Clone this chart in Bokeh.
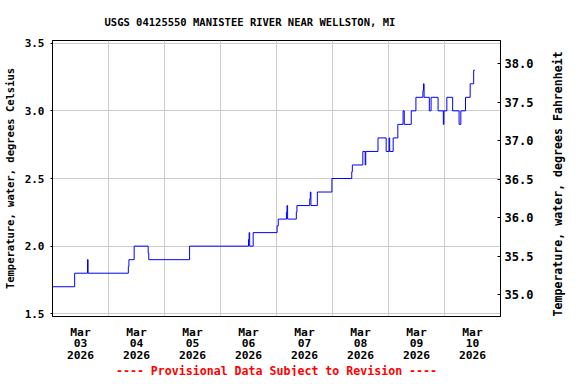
import math
import pandas as pd
from bokeh.plotting import figure
from bokeh.models import (Range1d, LinearAxis, FixedTicker, DatetimeTickFormatter,
                          NumeralTickFormatter, Title, ColumnDataSource)
from bokeh.embed import file_html
from bokeh.resources import INLINE

# ---- data ----
times = [
    "2026-03-03 00:00", "2026-03-03 09:30", "2026-03-03 15:00", "2026-03-03 15:15",
    "2026-03-04 08:30", "2026-03-04 08:45", "2026-03-04 11:00", "2026-03-04 17:00",
    "2026-03-04 17:15", "2026-03-05 10:45", "2026-03-06 12:00", "2026-03-06 12:15",
    "2026-03-06 12:30", "2026-03-06 14:00", "2026-03-07 00:15", "2026-03-07 00:45",
    "2026-03-07 04:15", "2026-03-07 04:30", "2026-03-07 04:45", "2026-03-07 08:30",
    "2026-03-07 08:45", "2026-03-07 14:15", "2026-03-07 14:30", "2026-03-07 14:45",
    "2026-03-07 17:30", "2026-03-07 23:45", "2026-03-08 08:15", "2026-03-08 08:30",
    "2026-03-08 13:00", "2026-03-08 14:00", "2026-03-08 14:15", "2026-03-08 19:30",
    "2026-03-08 23:00", "2026-03-09 00:15", "2026-03-09 00:30", "2026-03-09 02:00",
    "2026-03-09 04:00", "2026-03-09 06:15", "2026-03-09 06:45", "2026-03-09 09:45",
    "2026-03-09 11:45", "2026-03-09 14:45", "2026-03-09 15:00", "2026-03-09 15:15",
    "2026-03-09 17:30", "2026-03-09 18:15", "2026-03-09 21:15", "2026-03-09 23:30",
    "2026-03-09 23:45", "2026-03-10 01:00", "2026-03-10 03:30", "2026-03-10 06:15",
    "2026-03-10 07:00", "2026-03-10 09:00", "2026-03-10 11:00", "2026-03-10 12:30",
    "2026-03-10 13:00",
]
temps_c = [
    1.7, 1.8, 1.9, 1.8,
    1.85, 1.9, 2.0, 1.95,
    1.9, 2.0, 2.05, 2.1,
    2.0, 2.1, 2.15, 2.2,
    2.25, 2.3, 2.2, 2.25,
    2.3, 2.35, 2.4, 2.3,
    2.4, 2.5, 2.55, 2.6,
    2.7, 2.6, 2.7, 2.8,
    2.7, 2.8, 2.7, 2.8,
    2.9, 3.0, 2.9, 3.0,
    3.1, 3.15, 3.2, 3.1,
    3.0, 3.1, 3.0, 2.9,
    3.0, 3.1, 3.0, 2.9,
    3.0, 3.1, 3.2, 3.3,
    3.3,
]
label_days = ["2026-03-03 12:00", "2026-03-04 12:00", "2026-03-05 12:00", "2026-03-06 12:00",
              "2026-03-07 12:00", "2026-03-08 12:00", "2026-03-09 12:00", "2026-03-10 12:00"]
grid_days = ["2026-03-04", "2026-03-05", "2026-03-06", "2026-03-07",
             "2026-03-08", "2026-03-09", "2026-03-10"]
x_start, x_end = "2026-03-03", "2026-03-11"
c_ticks = [1.5, 2.0, 2.5, 3.0, 3.5]
f_ticks = [35.0, 35.5, 36.0, 36.5, 37.0, 37.5, 38.0]
c_range = (1.48, 3.52)
f_range = (34.72, 38.30)

TITLE = "USGS 04125550 MANISTEE RIVER NEAR WELLSTON, MI"
FOOTER = "---- Provisional Data Subject to Revision ----"
YLABEL_L = "Temperature, water, degrees Celsius"
YLABEL_R = "Temperature, water, degrees Fahrenheit"

FONT = "DejaVu Sans Mono"
GRID = "#cccccc"


def ms(s):
    return pd.Timestamp(s).value / 1e6


src = ColumnDataSource(dict(t=pd.to_datetime(times), v=temps_c))

p = figure(frame_width=448, frame_height=276, x_axis_type="datetime",
           output_backend="svg", toolbar_location=None,
           x_range=Range1d(pd.Timestamp(x_start), pd.Timestamp(x_end)),
           y_range=Range1d(*c_range),
           min_border_left=51, min_border_right=69,
           min_border_top=40, min_border_bottom=60)
p.background_fill_color = "white"
p.border_fill_color = "white"
p.outline_line_color = "black"
p.outline_line_width = 1

p.step(x="t", y="v", source=src, mode="after", line_color="#0000ff", line_width=1)

# title
p.title.text = TITLE
p.title.align = "left"
p.title.offset = 52
p.title.text_font = FONT
p.title.text_font_size = "10.5px"
p.title.text_font_style = "bold"
p.title.text_color = "black"
p.title.standoff = 25

# x axis
xa = p.xaxis[0]
xa.ticker = FixedTicker(ticks=[ms(d) for d in label_days])
xa.formatter = DatetimeTickFormatter(days="%b\n%d\n%Y", hours="%b\n%d\n%Y")
xa.major_tick_line_color = None
xa.minor_tick_line_color = None
xa.axis_line_color = "black"
xa.major_label_text_font = FONT
xa.major_label_text_font_size = "11.3px"
xa.major_label_text_font_style = "bold"
xa.major_label_text_color = "black"
xa.major_label_text_line_height = 0.92
xa.major_label_standoff = 3

p.xgrid.ticker = FixedTicker(ticks=[ms(d) for d in grid_days])
p.xgrid.grid_line_color = GRID
p.ygrid.ticker = FixedTicker(ticks=c_ticks)
p.ygrid.grid_line_color = GRID

# left axis
ya = p.yaxis[0]
ya.ticker = FixedTicker(ticks=c_ticks)
ya.formatter = NumeralTickFormatter(format="0.0")
ya.minor_tick_line_color = None
ya.major_tick_in = 0
ya.major_tick_out = 2
ya.major_label_standoff = 6
ya.major_label_text_font = FONT
ya.major_label_text_font_size = "11px"
ya.major_label_text_font_style = "bold"
ya.major_label_text_color = "black"
ya.axis_label = YLABEL_L
ya.axis_label_text_font = FONT
ya.axis_label_text_font_size = "10.5px"
ya.axis_label_text_font_style = "bold"
ya.axis_label_text_color = "black"
ya.axis_label_standoff = 6

# right axis (Fahrenheit)
p.extra_y_ranges = {"F": Range1d(*f_range)}
ra = LinearAxis(y_range_name="F", ticker=FixedTicker(ticks=f_ticks),
                formatter=NumeralTickFormatter(format="0.0"))
ra.minor_tick_line_color = None
ra.major_tick_in = 3
ra.major_tick_out = 0
ra.major_label_standoff = 4
ra.major_label_text_font = FONT
ra.major_label_text_font_size = "12px"
ra.major_label_text_font_style = "bold"
ra.major_label_text_color = "black"
ra.axis_label = YLABEL_R
ra.axis_label_text_font = FONT
ra.axis_label_text_font_size = "11.6px"
ra.axis_label_text_font_style = "bold"
ra.axis_label_text_color = "black"
ra.axis_label_standoff = 22
ra.axis_label_orientation = math.pi / 2
if "axis_label_align" in ra.properties():
    ra.axis_label_align = "start"
p.add_layout(ra, "right")

# footer
p.add_layout(Title(text=FOOTER, align="center", text_color="red", text_font=FONT,
                   text_font_size="11.6px", text_font_style="bold", standoff=-8), "below")

open("out.html", "w").write(file_html(p, INLINE))
